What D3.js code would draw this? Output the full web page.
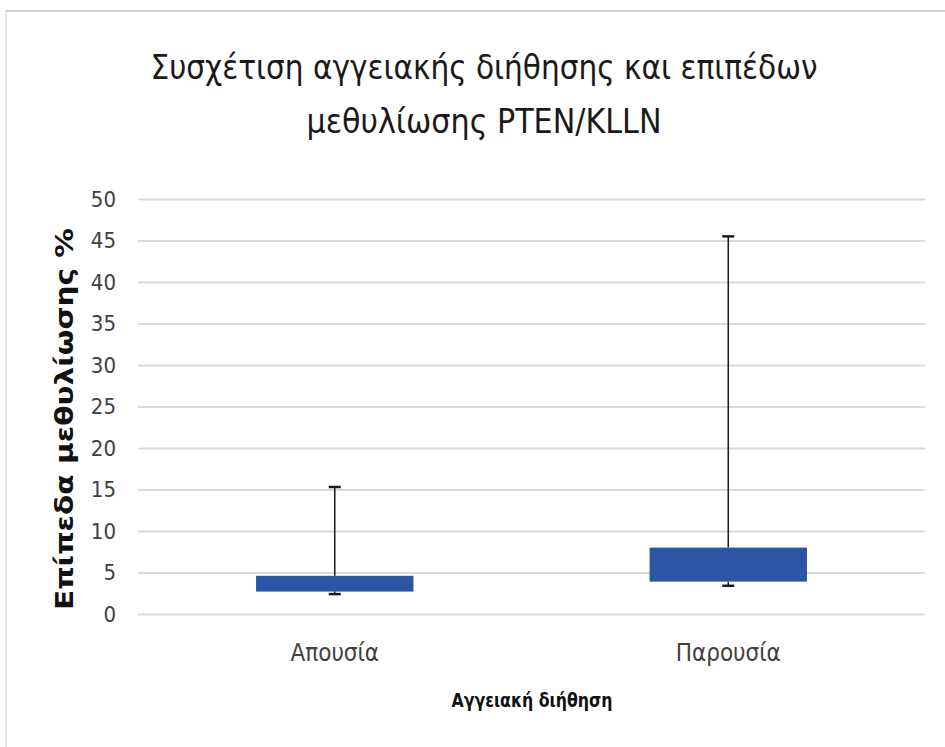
<!DOCTYPE html>
<html>
<head>
<meta charset="utf-8">
<script src="https://cdn.jsdelivr.net/npm/d3@7"></script>
<style>
  html, body { margin: 0; padding: 0; background: #fff; }
  svg { display: block; }
  .cond { font-family: "DejaVu Sans Condensed", "DejaVu Sans", sans-serif; font-stretch: condensed; }
</style>
</head>
<body>
<svg id="chart" width="945" height="747"></svg>
<script>
// ---- Data ----
const categories = ["Απουσία", "Παρουσία"];
const boxLow = [2.7, 3.9];        // bottom of the box
const boxHigh = [4.6, 8.0];       // top of the box
const whiskerLow = [2.4, 3.4];    // minimum
const whiskerHigh = [15.3, 45.5]; // maximum
const yTicks = [0, 5, 10, 15, 20, 25, 30, 35, 40, 45, 50];
const titleLines = ["Συσχέτιση αγγειακής διήθησης και επιπέδων", "μεθυλίωσης PTEN/KLLN"];
const yTitle = "Επίπεδα μεθυλίωσης %";
const xTitle = "Αγγειακή διήθηση";

const rows = categories.map((c, i) => ({
  cat: c, lo: boxLow[i], hi: boxHigh[i], min: whiskerLow[i], max: whiskerHigh[i]
}));

const svg = d3.select("#chart");
const W = 945, H = 747;
const plot = { left: 138, right: 925, top: 199, bottom: 614 };

// frame
svg.append("line").attr("x1", 5).attr("x2", 945).attr("y1", 11).attr("y2", 11)
  .attr("stroke", "#cfcfcf").attr("stroke-width", 2);
svg.append("line").attr("x1", 6).attr("x2", 6).attr("y1", 11).attr("y2", H)
  .attr("stroke", "#e6e6e6").attr("stroke-width", 2);

const x = d3.scaleBand().domain(categories).range([plot.left, plot.right])
  .paddingInner(0.6).paddingOuter(0.3);
const y = d3.scaleLinear().domain([0, 50]).range([plot.bottom, plot.top]);

// gridlines + y tick labels
const yAxis = d3.axisLeft(y).tickValues(yTicks).tickSize(-(plot.right - plot.left)).tickPadding(22);
const gy = svg.append("g").attr("transform", `translate(${plot.left},0)`).call(yAxis);
gy.select(".domain").remove();
gy.selectAll(".tick line").attr("stroke", "#d9d9d9").attr("stroke-width", 2);
gy.selectAll(".tick text").attr("class", "cond").attr("font-size", 22).attr("fill", "#404040")
  .attr("font-family", null);

// x axis labels
const xAxis = d3.axisBottom(x).tickSize(0).tickPadding(30);
const gx = svg.append("g").attr("transform", `translate(0,${plot.bottom})`).call(xAxis);
gx.select(".domain").remove();
gx.attr("font-family", null);
gx.selectAll(".tick text").attr("class", "cond").attr("font-size", 24).attr("fill", "#404040");

// boxes
svg.append("g").selectAll("rect").data(rows).join("rect")
  .attr("x", d => x(d.cat))
  .attr("width", x.bandwidth())
  .attr("y", d => y(d.hi))
  .attr("height", d => y(d.lo) - y(d.hi))
  .attr("fill", "#2b55a5");

// whiskers
const cx = d => x(d.cat) + x.bandwidth() / 2;
const wg = svg.append("g").attr("stroke", "#1a1a1a").attr("stroke-width", 1.5);
wg.selectAll("line.up").data(rows).join("line").attr("class", "up")
  .attr("x1", cx).attr("x2", cx)
  .attr("y1", d => y(d.hi)).attr("y2", d => y(d.max));
wg.selectAll("line.capu").data(rows).join("line").attr("class", "capu")
  .attr("x1", d => cx(d) - 6).attr("x2", d => cx(d) + 6)
  .attr("y1", d => y(d.max)).attr("y2", d => y(d.max)).attr("stroke-width", 2.5);
wg.selectAll("line.down").data(rows).join("line").attr("class", "down")
  .attr("x1", cx).attr("x2", cx)
  .attr("y1", d => y(d.lo)).attr("y2", d => y(d.min));
wg.selectAll("line.capd").data(rows).join("line").attr("class", "capd")
  .attr("x1", d => cx(d) - 6).attr("x2", d => cx(d) + 6)
  .attr("y1", d => y(d.min)).attr("y2", d => y(d.min)).attr("stroke-width", 2.5);

// title
const titleWidths = [667, 355];
svg.append("g").selectAll("text").data(titleLines).join("text")
  .attr("class", "cond")
  .attr("x", 484)
  .attr("y", (d, i) => 79 + i * 54)
  .attr("text-anchor", "middle")
  .attr("font-size", 33)
  .attr("fill", "#1a1a1a")
  .attr("textLength", (d, i) => titleWidths[i])
  .attr("lengthAdjust", "spacingAndGlyphs")
  .text(d => d);

// y title
svg.append("text")
  .attr("transform", `translate(73,${419}) rotate(-90)`)
  .attr("text-anchor", "middle")
  .attr("font-family", "'DejaVu Sans', sans-serif")
  .attr("font-weight", "bold")
  .attr("font-size", 25)
  .attr("fill", "#111")
  .attr("textLength", 382)
  .attr("lengthAdjust", "spacingAndGlyphs")
  .text(yTitle);

// x title
svg.append("text")
  .attr("class", "cond")
  .attr("x", 532).attr("y", 707)
  .attr("text-anchor", "middle")
  .attr("font-weight", "bold")
  .attr("font-size", 20)
  .attr("fill", "#111")
  .attr("textLength", 161)
  .attr("lengthAdjust", "spacingAndGlyphs")
  .text(xTitle);
</script>
</body>
</html>
